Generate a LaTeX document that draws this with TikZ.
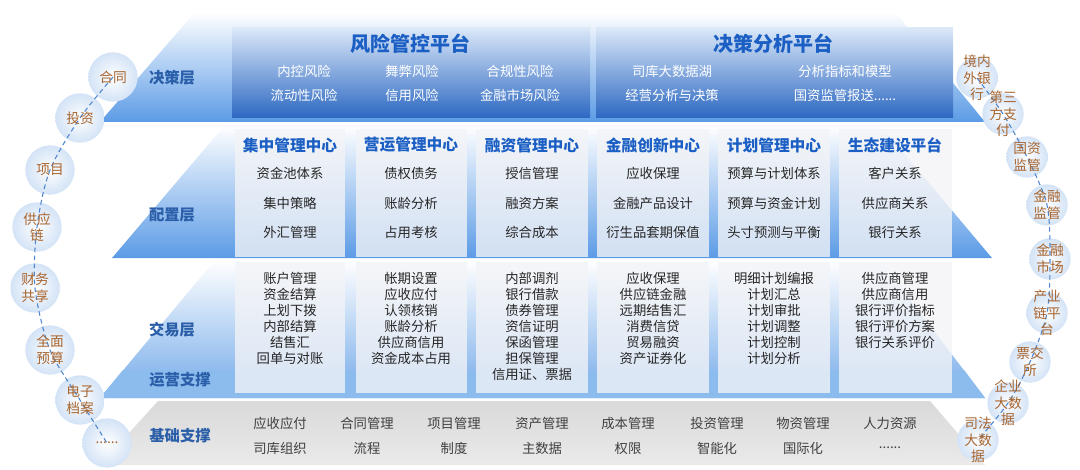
\documentclass[tikz,border=0pt]{standalone}
\usepackage{fontspec}
\setmainfont{Noto Sans CJK SC}
\definecolor{bandblue}{HTML}{5B9BE6}
\definecolor{stripblue}{HTML}{8CBBEE}
\definecolor{paneltop}{HTML}{DBE8F8}
\definecolor{panelblue}{HTML}{2C68C2}
\definecolor{titleblue}{HTML}{1B5FC4}
\definecolor{layerblue}{HTML}{2A5EA8}
\definecolor{cellgray}{HTML}{F3F4F7}
\definecolor{basegray}{HTML}{D9D9D9}
\definecolor{balltext}{HTML}{A8652F}
\definecolor{ballblue}{HTML}{D3E3F6}
\definecolor{chainblue}{HTML}{4F86CF}
\begin{document}
\begin{tikzpicture}[x=0.75pt,y=-0.75pt,
        item/.style={font=\fontsize{10}{12}\selectfont,align=center,inner sep=0pt,text=black!85},
        white item/.style={item,text=white},
        base item/.style={item,text=black!75},
        title/.style={font=\bfseries\fontsize{15}{18}\selectfont,inner sep=0pt,text=titleblue},
        head/.style={font=\bfseries\fontsize{11.8}{14}\selectfont,inner sep=0pt,text=titleblue},
        layer/.style={font=\bfseries\fontsize{11.5}{14}\selectfont,inner sep=0pt,text=layerblue},
        cell/.style={fill=cellgray,fill opacity=0.78},
        left ball/.style={circle,shading=radial,inner color=white,outer color=ballblue,minimum size=37pt,inner sep=0pt},
        right ball/.style={left ball,minimum size=31pt},
        ball text/.style={font=\fontsize{10.3}{12.5}\selectfont,align=center,inner sep=0pt,text=balltext},
        chain/.style={chainblue,line width=0.8pt,dash pattern=on 3.5pt off 2.5pt},
        ]

    \useasboundingbox (0,0) rectangle (1080,470);

    \shade[top color=white,bottom color=bandblue] (100,122) -- (195,12) -- (895,12) -- (985,122) -- cycle;
    \shade[top color=white,bottom color=bandblue] (112,258) -- (225,125) -- (880,125) -- (992,258) -- cycle;
    \shade[top color=white,bottom color=bandblue!85] (100,398) -- (215,260) -- (880,260) -- (985,398) -- cycle;
    \fill[stripblue] (123,370) -- (964,370) -- (985,398) -- (100,398) -- cycle;
    \shade[top color=basegray,bottom color=basegray!55] (100,465) -- (158,401) -- (930,401) -- (985,465) -- cycle;

    \shade[top color=paneltop,bottom color=panelblue] (232,28) rectangle (590,118);
    \shade[top color=paneltop,bottom color=panelblue] (596,28) rectangle (953,118);

    \node[title] (p1) at (410,44) {风险管控平台};
    \node[white item] at (304,71) {内控风险};
    \node[white item] at (304,95) {流动性风险};
    \node[white item] at (412,71) {舞弊风险};
    \node[white item] at (412,95) {信用风险};
    \node[white item] at (520,71) {合规性风险};
    \node[white item] at (520,95) {金融市场风险};

    \node[title] (p2) at (773,44) {决策分析平台};
    \node[white item] at (672,71) {司库大数据湖};
    \node[white item] at (672,95) {经营分析与决策};
    \node[white item] at (845,71) {分析指标和模型};
    \node[white item] at (845,95) {国资监管报送......};

    \fill[cell] (235,129) rectangle (345,257);
    \fill[cell] (356,129) rectangle (467,257);
    \fill[cell] (476,129) rectangle (588,257);
    \fill[cell] (597,129) rectangle (709,257);
    \fill[cell] (718,129) rectangle (830,257);
    \fill[cell] (839,129) rectangle (952,257);
    \fill[cell] (235,262) rectangle (345,393);
    \fill[cell] (356,262) rectangle (467,393);
    \fill[cell] (476,262) rectangle (588,393);
    \fill[cell] (597,262) rectangle (709,393);
    \fill[cell] (718,262) rectangle (830,393);
    \fill[cell] (839,262) rectangle (952,393);

    \node[head] (h1) at (290,145) {集中管理中心};
    \node[head] (h2) at (411,145) {营运管理中心};
    \node[head] (h3) at (532,145) {融资管理中心};
    \node[head] (h4) at (653,145) {金融创新中心};
    \node[head] (h5) at (774,145) {计划管理中心};
    \node[head] (h6) at (895,145) {生态建设平台};

    \node[item] at (290,173) {资金池体系};
    \node[item] at (290,203) {集中策略};
    \node[item] at (290,232) {外汇管理};
    \node[item] at (411,173) {债权债务};
    \node[item] at (411,203) {账龄分析};
    \node[item] at (411,232) {占用考核};
    \node[item] at (532,173) {授信管理};
    \node[item] at (532,203) {融资方案};
    \node[item] at (532,232) {综合成本};
    \node[item] at (653,173) {应收保理};
    \node[item] at (653,203) {金融产品设计};
    \node[item] at (653,232) {衍生品套期保值};
    \node[item] at (774,173) {预算与计划体系};
    \node[item] at (774,203) {预算与资金计划};
    \node[item] at (774,232) {头寸预测与平衡};
    \node[item] at (895,173) {客户关系};
    \node[item] at (895,203) {供应商关系};
    \node[item] at (895,232) {银行关系};

    \node[item,anchor=north] at (290,272) {账户管理\\资金结算\\上划下拨\\内部结算\\结售汇\\回单与对账};
    \node[item,anchor=north] at (411,272) {帐期设置\\应收应付\\认领核销\\账龄分析\\供应商信用\\资金成本占用};
    \node[item,anchor=north] at (532,272) {内部调剂\\银行借款\\债券管理\\资信证明\\保函管理\\担保管理\\信用证、票据};
    \node[item,anchor=north] at (653,272) {应收保理\\供应链金融\\远期结售汇\\消费信贷\\贸易融资\\资产证券化};
    \node[item,anchor=north] at (774,272) {明细计划编报\\计划汇总\\计划审批\\计划调整\\计划控制\\计划分析};
    \node[item,anchor=north] at (895,272) {供应商管理\\供应商信用\\银行评价指标\\银行评价方案\\银行关系评价};

    \node[base item] at (280,423) {应收应付};
    \node[base item] at (367,423) {合同管理};
    \node[base item] at (454,423) {项目管理};
    \node[base item] at (542,423) {资产管理};
    \node[base item] at (628,423) {成本管理};
    \node[base item] at (717,423) {投资管理};
    \node[base item] at (803,423) {物资管理};
    \node[base item] at (890,423) {人力资源};
    \node[base item] at (280,448) {司库组织};
    \node[base item] at (367,448) {流程};
    \node[base item] at (454,448) {制度};
    \node[base item] at (542,448) {主数据};
    \node[base item] at (628,448) {权限};
    \node[base item] at (717,448) {智能化};
    \node[base item] at (803,448) {国际化};
    \node[base item] at (890,448) {......};

    \node[layer] (d) at (172,78) {决策层};
    \node[layer] (c) at (172,215) {配置层};
    \node[layer] (t) at (172,330) {交易层};
    \node[layer] (o) at (180,380) {运营支撑};
    \node[layer] (b) at (180,436) {基础支撑};

    \node[left ball] (l1) at (113,77) {};
    \node[left ball] (l2) at (80,118) {};
    \node[left ball] (l3) at (50,170) {};
    \node[left ball] (l4) at (37,227) {};
    \node[left ball] (l5) at (35,288) {};
    \node[left ball] (l6) at (50,350) {};
    \node[left ball] (l7) at (80,400) {};
    \node[left ball] (l8) at (107,443) {};

    \node[right ball] (r1) at (977,78) {};
    \node[right ball] (r2) at (1003,114) {};
    \node[right ball] (r3) at (1027,157) {};
    \node[right ball] (r4) at (1047,205) {};
    \node[right ball] (r5) at (1050,259) {};
    \node[right ball] (r6) at (1047,313) {};
    \node[right ball] (r7) at (1030,362) {};
    \node[right ball] (r8) at (1008,403) {};
    \node[right ball] (r9) at (978,440) {};

    \draw[chain] plot[smooth] coordinates {(l1.center) (l2.center) (l3.center) (l4.center) (l5.center) (l6.center) (l7.center) (l8.center)};
    \draw[chain] plot[smooth] coordinates {(r1.center) (r2.center) (r3.center) (r4.center) (r5.center) (r6.center) (r7.center) (r8.center) (r9.center)};

    \node[ball text] at (l1) {合同};
    \node[ball text] at (l2) {投资};
    \node[ball text] at (l3) {项目};
    \node[ball text] at (l4) {供应\\链};
    \node[ball text] at (l5) {财务\\共享};
    \node[ball text] at (l6) {全面\\预算};
    \node[ball text] at (l7) {电子\\档案};
    \node[ball text] at (l8) {......};

    \node[ball text] at (r1) {境内\\外银\\行};
    \node[ball text] at (r2) {第三\\方支\\付};
    \node[ball text] at (r3) {国资\\监管};
    \node[ball text] at (r4) {金融\\监管};
    \node[ball text] at (r5) {金融\\市场};
    \node[ball text] at (r6) {产业\\链平\\台};
    \node[ball text] at (r7) {票交\\所};
    \node[ball text] at (r8) {企业\\大数\\据};
    \node[ball text] at (r9) {司法\\大数\\据};
\end{tikzpicture}
\end{document}
